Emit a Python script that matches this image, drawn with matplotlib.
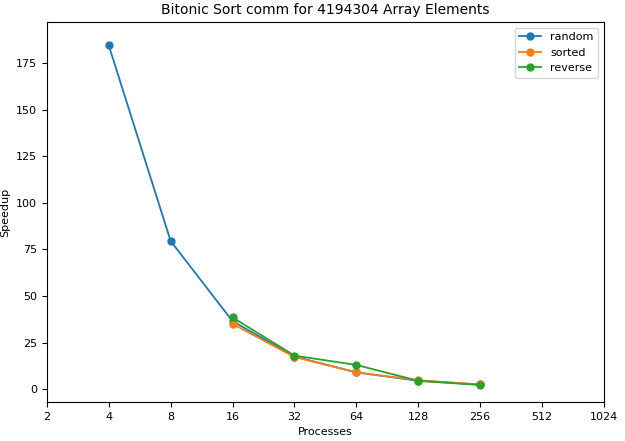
import matplotlib
matplotlib.use("Agg")
import matplotlib.pyplot as plt

ticks = [2, 4, 8, 16, 32, 64, 128, 256, 512, 1024]
rand_x = [4, 8, 16, 32, 64, 128, 256]
rand_y = [184.5, 79.5, 36.5, 17.5, 9.0, 4.5, 2.5]
sort_x = [16, 32, 64, 128, 256]
sort_y = [35.0, 17.3, 9.0, 4.8, 2.5]
rev_x = [16, 32, 64, 128, 256]
rev_y = [38.5, 18.0, 13.0, 4.5, 2.2]

fig = plt.figure(figsize=(6.25, 4.41), dpi=100)
ax = fig.add_axes([0.075, 0.088, 0.891, 0.862])
for x, y, lab in [(rand_x, rand_y, 'random'), (sort_x, sort_y, 'sorted'), (rev_x, rev_y, 'reverse')]:
    ax.plot(x, y, marker='o', markersize=5, linewidth=1.3, label=lab)
ax.set_xscale('log', base=2)
ax.set_xticks(ticks)
ax.set_xticklabels([str(t) for t in ticks])
ax.minorticks_off()
ax.set_xlim(2, 1024)
ax.set_ylim(-7, 197)
ax.tick_params(labelsize=8)
ax.set_xlabel('Processes', fontsize=8)
ax.set_ylabel('Speedup', fontsize=8)
ax.set_title('Bitonic Sort comm for 4194304 Array Elements', fontsize=10)
ax.legend(fontsize=8)
fig.savefig('out.png', dpi=100)
